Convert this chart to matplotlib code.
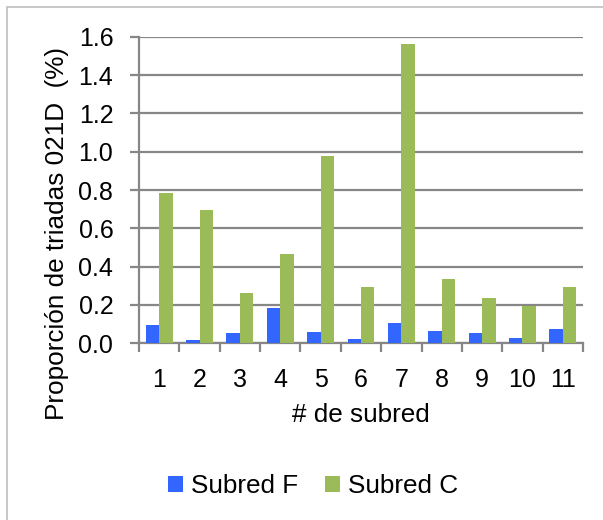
import matplotlib.pyplot as plt
from matplotlib.patches import Rectangle
import numpy as np

plt.rcParams['font.family'] = ['Liberation Sans', 'DejaVu Sans']

subredes = ['1', '2', '3', '4', '5', '6', '7', '8', '9', '10', '11']
subred_f = [0.096, 0.019, 0.056, 0.186, 0.057, 0.021, 0.104, 0.066, 0.052, 0.028, 0.075]
subred_c = [0.783, 0.696, 0.264, 0.464, 0.977, 0.294, 1.563, 0.336, 0.238, 0.197, 0.292]

BLUE = '#3366ff'
GREEN = '#9bbb59'
GRID = '#878787'
FS_TICK = 18
FS_LAB = 18.8

fig = plt.figure(figsize=(6.03, 5.2), dpi=100)
ax = fig.add_axes([139 / 603, 1 - 343.3 / 520, 444 / 603, 306.6 / 520])

x = np.arange(len(subredes))
w = 1 / 3
ax.bar(x - w / 2, subred_f, w, color=BLUE, label='Subred F', zorder=3)
ax.bar(x + w / 2, subred_c, w, color=GREEN, label='Subred C', zorder=3)

ax.set_xlim(-0.5, len(subredes) - 0.5)
ax.set_ylim(0, 1.6)
ax.set_yticks(np.arange(0, 1.61, 0.2))
ax.set_yticklabels([f'{v:.1f}' for v in np.arange(0, 1.61, 0.2)])
ax.yaxis.grid(True, color=GRID, lw=1.6, zorder=0)
ax.set_axisbelow(True)

ax.set_xticks(x)
ax.set_xticklabels(subredes)
ax.set_xticks(np.arange(-0.5, len(subredes)), minor=True)
ax.tick_params(axis='x', which='major', length=0, pad=18, labelsize=FS_TICK)
ax.tick_params(axis='x', which='minor', length=6.5, width=1.6, color=GRID, direction='out')
ax.tick_params(axis='y', length=6.5, width=1.6, color=GRID, pad=12, labelsize=FS_TICK)

for s in ['top', 'right']:
    ax.spines[s].set_visible(False)
for s in ['left', 'bottom']:
    ax.spines[s].set_color(GRID)
    ax.spines[s].set_linewidth(1.6)

fig.text(361 / 603, 1 - 415 / 520, '# de subred', fontsize=FS_LAB, ha='center', va='center')
fig.text(57 / 603, 1 - 234 / 520, 'Proporción de triadas 021D  (%)', fontsize=FS_LAB,
         ha='center', va='center', rotation=90)

fig.legend(loc='center', bbox_to_anchor=(313 / 603, 1 - 486 / 520), ncol=2, frameon=False,
           fontsize=FS_LAB, handlelength=0.56, handleheight=0.56, handletextpad=0.3,
           columnspacing=1.05)

fig.patches.append(Rectangle((7 / 603, -0.1), 1.2, 1 - 7 / 520 + 0.1, transform=fig.transFigure,
                             fill=False, edgecolor='#bfbfbf', lw=1.2))

fig.savefig('out.png', dpi=100)
